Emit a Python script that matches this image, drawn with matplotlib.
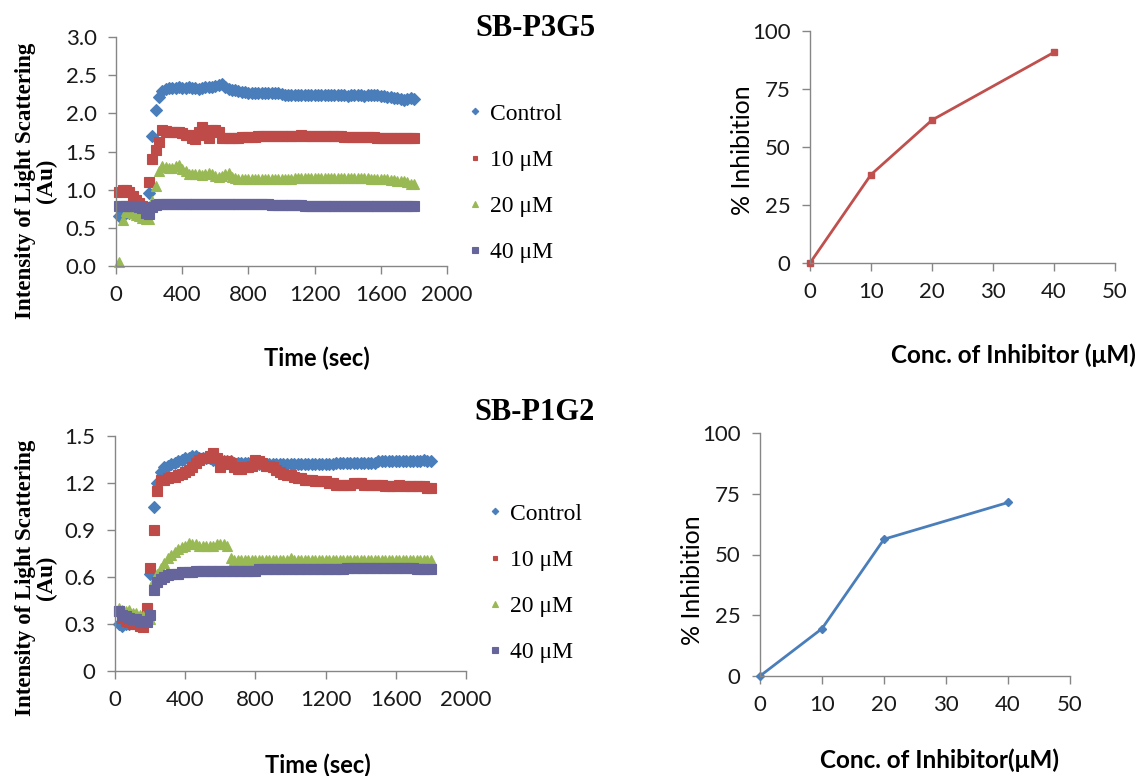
import numpy as np
import matplotlib
matplotlib.use("Agg")
import matplotlib.pyplot as plt

# ---------------- data ----------------
time_sec = np.arange(20, 1801, 20)

# SB-P3G5 light scattering kinetics (Au)
p3g5_control = [
    0.65, 0.68, 0.70, 0.70, 0.71, 0.71, 0.72, 0.74, 0.75, 0.95,
    1.70, 2.05, 2.22, 2.29, 2.32, 2.33, 2.33, 2.33, 2.34, 2.33,
    2.33, 2.34, 2.33, 2.33, 2.32, 2.33, 2.34, 2.35, 2.35, 2.36,
    2.37, 2.38, 2.34, 2.32, 2.30, 2.30, 2.29, 2.28, 2.28, 2.27,
    2.27, 2.27, 2.27, 2.27, 2.27, 2.27, 2.27, 2.26, 2.26, 2.25,
    2.24, 2.24, 2.24, 2.24, 2.24, 2.24, 2.24, 2.24, 2.24, 2.24,
    2.24, 2.24, 2.24, 2.24, 2.24, 2.24, 2.24, 2.24, 2.24, 2.23,
    2.24, 2.24, 2.24, 2.24, 2.23, 2.24, 2.24, 2.24, 2.24, 2.23,
    2.23, 2.22, 2.21, 2.20, 2.20, 2.19, 2.18, 2.19, 2.20, 2.19,
]
p3g5_10uM = [
    0.97, 1.00, 1.00, 0.97, 0.92, 0.86, 0.82, 0.79, 0.77, 1.10,
    1.40, 1.52, 1.62, 1.78, 1.77, 1.76, 1.76, 1.75, 1.75, 1.74,
    1.72, 1.71, 1.68, 1.67, 1.76, 1.82, 1.72, 1.68, 1.78, 1.78,
    1.76, 1.68, 1.68, 1.68, 1.68, 1.68, 1.68, 1.69, 1.69, 1.69,
    1.69, 1.69, 1.70, 1.70, 1.70, 1.70, 1.70, 1.70, 1.70, 1.70,
    1.70, 1.70, 1.70, 1.70, 1.70, 1.71, 1.70, 1.70, 1.70, 1.70,
    1.70, 1.70, 1.70, 1.70, 1.70, 1.70, 1.70, 1.70, 1.69, 1.69,
    1.69, 1.69, 1.69, 1.69, 1.69, 1.69, 1.69, 1.69, 1.68, 1.68,
    1.68, 1.68, 1.68, 1.68, 1.68, 1.68, 1.68, 1.68, 1.68, 1.68,
]
p3g5_20uM = [
    0.05, 0.60, 0.72, 0.71, 0.69, 0.67, 0.65, 0.63, 0.61, 0.62,
    0.85, 1.05, 1.25, 1.31, 1.30, 1.28, 1.29, 1.31, 1.32, 1.27,
    1.24, 1.21, 1.20, 1.20, 1.20, 1.19, 1.20, 1.22, 1.20, 1.18,
    1.17, 1.18, 1.20, 1.22, 1.17, 1.15, 1.14, 1.14, 1.14, 1.14,
    1.14, 1.14, 1.14, 1.14, 1.14, 1.14, 1.14, 1.14, 1.14, 1.14,
    1.14, 1.14, 1.14, 1.15, 1.15, 1.15, 1.15, 1.15, 1.15, 1.15,
    1.15, 1.15, 1.15, 1.15, 1.15, 1.15, 1.15, 1.15, 1.15, 1.15,
    1.15, 1.15, 1.15, 1.15, 1.15, 1.15, 1.14, 1.14, 1.14, 1.14,
    1.14, 1.14, 1.13, 1.13, 1.12, 1.12, 1.11, 1.10, 1.08, 1.07,
]
p3g5_40uM = [
    0.79, 0.79, 0.79, 0.79, 0.78, 0.78, 0.77, 0.76, 0.70, 0.68,
    0.77, 0.80, 0.81, 0.81, 0.81, 0.81, 0.81, 0.81, 0.81, 0.81,
    0.81, 0.81, 0.81, 0.81, 0.81, 0.81, 0.81, 0.81, 0.81, 0.81,
    0.81, 0.81, 0.81, 0.81, 0.81, 0.81, 0.81, 0.81, 0.81, 0.81,
    0.81, 0.81, 0.81, 0.81, 0.81, 0.81, 0.80, 0.80, 0.80, 0.80,
    0.80, 0.80, 0.80, 0.80, 0.80, 0.80, 0.79, 0.79, 0.79, 0.79,
    0.79, 0.79, 0.79, 0.79, 0.79, 0.79, 0.79, 0.79, 0.79, 0.79,
    0.79, 0.79, 0.79, 0.79, 0.79, 0.79, 0.79, 0.79, 0.79, 0.79,
    0.79, 0.79, 0.79, 0.79, 0.79, 0.79, 0.79, 0.79, 0.79, 0.79,
]

# SB-P1G2 light scattering kinetics (Au)
p1g2_control = [
    0.30, 0.29, 0.30, 0.30, 0.31, 0.31, 0.31, 0.31, 0.32, 0.62,
    1.05, 1.20, 1.27, 1.30, 1.31, 1.32, 1.33, 1.34, 1.35, 1.36,
    1.36, 1.37, 1.37, 1.36, 1.36, 1.36, 1.36, 1.35, 1.35, 1.34,
    1.34, 1.34, 1.34, 1.33, 1.33, 1.33, 1.33, 1.33, 1.32, 1.32,
    1.32, 1.32, 1.32, 1.32, 1.32, 1.32, 1.32, 1.32, 1.32, 1.32,
    1.32, 1.32, 1.32, 1.32, 1.32, 1.32, 1.32, 1.32, 1.32, 1.32,
    1.32, 1.32, 1.33, 1.33, 1.33, 1.33, 1.33, 1.33, 1.33, 1.33,
    1.33, 1.33, 1.33, 1.33, 1.34, 1.34, 1.34, 1.34, 1.34, 1.34,
    1.34, 1.34, 1.34, 1.34, 1.34, 1.34, 1.34, 1.35, 1.34, 1.34,
]
p1g2_10uM = [
    0.38, 0.34, 0.32, 0.31, 0.30, 0.30, 0.29, 0.28, 0.40, 0.66,
    0.90, 1.15, 1.22, 1.22, 1.23, 1.24, 1.24, 1.25, 1.26, 1.27,
    1.28, 1.30, 1.33, 1.35, 1.36, 1.36, 1.37, 1.39, 1.36, 1.30,
    1.32, 1.34, 1.33, 1.30, 1.29, 1.29, 1.30, 1.30, 1.31, 1.35,
    1.34, 1.33, 1.31, 1.31, 1.30, 1.28, 1.27, 1.26, 1.25, 1.25,
    1.24, 1.23, 1.23, 1.22, 1.22, 1.22, 1.21, 1.21, 1.21, 1.21,
    1.20, 1.20, 1.19, 1.19, 1.19, 1.19, 1.19, 1.20, 1.20, 1.20,
    1.19, 1.19, 1.19, 1.19, 1.19, 1.19, 1.18, 1.18, 1.18, 1.18,
    1.19, 1.18, 1.18, 1.18, 1.18, 1.18, 1.18, 1.18, 1.17, 1.17,
]
p1g2_20uM = [
    0.40, 0.39, 0.38, 0.39, 0.37, 0.37, 0.36, 0.35, 0.35, 0.33,
    0.58, 0.62, 0.66, 0.69, 0.72, 0.74, 0.76, 0.78, 0.79, 0.80,
    0.82, 0.81, 0.81, 0.80, 0.80, 0.80, 0.80, 0.80, 0.81, 0.81,
    0.81, 0.80, 0.72, 0.71, 0.71, 0.71, 0.71, 0.71, 0.71, 0.71,
    0.71, 0.71, 0.71, 0.71, 0.71, 0.71, 0.71, 0.71, 0.71, 0.72,
    0.71, 0.71, 0.71, 0.71, 0.71, 0.71, 0.71, 0.71, 0.71, 0.71,
    0.71, 0.71, 0.71, 0.71, 0.71, 0.71, 0.71, 0.71, 0.71, 0.71,
    0.71, 0.71, 0.71, 0.71, 0.71, 0.71, 0.71, 0.71, 0.71, 0.71,
    0.71, 0.71, 0.71, 0.71, 0.71, 0.71, 0.71, 0.71, 0.71, 0.71,
]
p1g2_40uM = [
    0.38, 0.36, 0.35, 0.34, 0.33, 0.33, 0.32, 0.31, 0.31, 0.36,
    0.52, 0.57, 0.59, 0.60, 0.61, 0.62, 0.62, 0.62, 0.63, 0.63,
    0.63, 0.63, 0.64, 0.64, 0.64, 0.64, 0.64, 0.64, 0.64, 0.64,
    0.64, 0.64, 0.64, 0.64, 0.64, 0.64, 0.64, 0.64, 0.64, 0.64,
    0.65, 0.65, 0.65, 0.65, 0.65, 0.65, 0.65, 0.65, 0.65, 0.65,
    0.65, 0.65, 0.65, 0.65, 0.65, 0.65, 0.65, 0.65, 0.65, 0.65,
    0.65, 0.65, 0.65, 0.65, 0.65, 0.66, 0.66, 0.66, 0.66, 0.66,
    0.66, 0.66, 0.66, 0.66, 0.66, 0.66, 0.66, 0.66, 0.66, 0.66,
    0.66, 0.66, 0.66, 0.66, 0.66, 0.65, 0.65, 0.65, 0.65, 0.65,
]

series_labels = ["Control", "10 \u03bcM", "20 \u03bcM", "40 \u03bcM"]

# dose-response (% inhibition)
conc_uM = [0, 10, 20, 40]
p3g5_inhibition = [0, 38.1, 61.6, 90.8]
p1g2_inhibition = [0, 19.5, 56.3, 71.4]

# ---------------- styling ----------------
COLORS = ["#4A7EBB", "#BE4B48", "#98B954", "#65659C"]
MARKERS = ["D", "s", "^", "s"]
MSIZES = [6.0, 6.5, 7.0, 7.0]
SPINE = "#868686"
TICK_FONT = "Lato"
SERIF = "Liberation Serif"

W, H = 1142, 776
fig = plt.figure(figsize=(W / 100, H / 100), dpi=100)


def px_axes(x0, x1, y_top, y_bottom):
    return fig.add_axes([x0 / W, 1 - y_bottom / H, (x1 - x0) / W, (y_bottom - y_top) / H])


def style_axes(ax):
    for side in ("top", "right"):
        ax.spines[side].set_visible(False)
    for side in ("left", "bottom"):
        ax.spines[side].set_color(SPINE)
        ax.spines[side].set_linewidth(1.0)
    ax.tick_params(axis="both", direction="out", length=6, width=1.0, color=SPINE,
                   labelsize=16, labelcolor="#1a1a1a", pad=8)
    for lab in ax.get_xticklabels() + ax.get_yticklabels():
        lab.set_fontfamily(TICK_FONT)


def kinetics(ax, ys, ylim, yticks, yfmt):
    for y, c, m, s, lab in zip(ys, COLORS, MARKERS, MSIZES, series_labels):
        ax.plot(time_sec, y, linestyle="none", marker=m, markersize=s,
                color=c, markeredgewidth=0.8, markeredgecolor=c, label=lab,
                clip_on=False)
    ax.set_xlim(0, 2000)
    ax.set_ylim(*ylim)
    ax.set_xticks(range(0, 2001, 400))
    ax.set_yticks(yticks)
    ax.set_yticklabels([yfmt.format(v) for v in yticks])
    style_axes(ax)


# --- SB-P3G5 kinetics ---
ax1 = px_axes(116, 447, 37, 266)
kinetics(ax1, [p3g5_control, p3g5_10uM, p3g5_20uM, p3g5_40uM],
         (0, 3.0), np.arange(0, 3.01, 0.5), "{:.1f}")

# --- SB-P1G2 kinetics ---
ax2 = px_axes(115, 466, 436, 671)
kinetics(ax2, [p1g2_control, p1g2_10uM, p1g2_20uM, p1g2_40uM],
         (0, 1.5), [0, 0.3, 0.6, 0.9, 1.2, 1.5], "{:g}")

# --- dose-response plots ---
ax3 = px_axes(810, 1115, 31, 263)
ax3.plot(conc_uM, p3g5_inhibition, color="#C0504D", linewidth=2.0, marker="s",
         markersize=5, clip_on=False)
ax4 = px_axes(760, 1070, 433, 676)
ax4.plot(conc_uM, p1g2_inhibition, color="#4A7EBB", linewidth=2.0, marker="D",
         markersize=4.5, clip_on=False)
for ax in (ax3, ax4):
    ax.set_xlim(0, 50)
    ax.set_ylim(0, 100)
    ax.set_xticks(range(0, 51, 10))
    ax.set_yticks(range(0, 101, 25))
    style_axes(ax)

# ---------------- text ----------------
fig.text(535 / W, 1 - 28 / H, "SB-P3G5", ha="center", va="center",
         family=SERIF, weight="bold", fontsize=22)
fig.text(535 / W, 1 - 413 / H, "SB-P1G2", ha="center", va="center",
         family=SERIF, weight="bold", fontsize=22)

for yc in (181, 578):
    fig.text(36 / W, 1 - yc / H, "Intensity of Light Scattering\n(Au)", rotation=90,
             ha="center", va="center", multialignment="center", family=SERIF,
             weight="bold", fontsize=16.5, linespacing=1.05)

fig.text(317 / W, 1 - 358 / H, "Time (sec)", ha="center", va="center",
         family=TICK_FONT, weight="bold", fontsize=17)
fig.text(318 / W, 1 - 765 / H, "Time (sec)", ha="center", va="center",
         family=TICK_FONT, weight="bold", fontsize=17)

fig.text(742 / W, 1 - 150 / H, "% Inhibition", rotation=90, ha="center", va="center",
         family=TICK_FONT, fontsize=18)
fig.text(693 / W, 1 - 580 / H, "% Inhibition", rotation=90, ha="center", va="center",
         family=TICK_FONT, fontsize=18)

fig.text(1013 / W, 1 - 355 / H, "Conc. of Inhibitor (\u03bcM)", ha="center", va="center",
         family=TICK_FONT, weight="bold", fontsize=17.5)
fig.text(940 / W, 1 - 760 / H, "Conc. of Inhibitor(\u03bcM)", ha="center", va="center",
         family=TICK_FONT, weight="bold", fontsize=17.5)

# ---------------- legends ----------------
for ax, (lx, ly) in ((ax1, (469, 103)), (ax2, (489, 503))):
    handles, labels = ax.get_legend_handles_labels()
    fig.legend(handles, labels, loc="upper left", bbox_to_anchor=(lx / W, 1 - ly / H),
               frameon=False, markerscale=0.55, handlelength=0.55, handletextpad=0.35,
               borderpad=0, borderaxespad=0, labelspacing=1.05,
               prop={"family": SERIF, "size": 17})

fig.savefig("out.png", dpi=100)
